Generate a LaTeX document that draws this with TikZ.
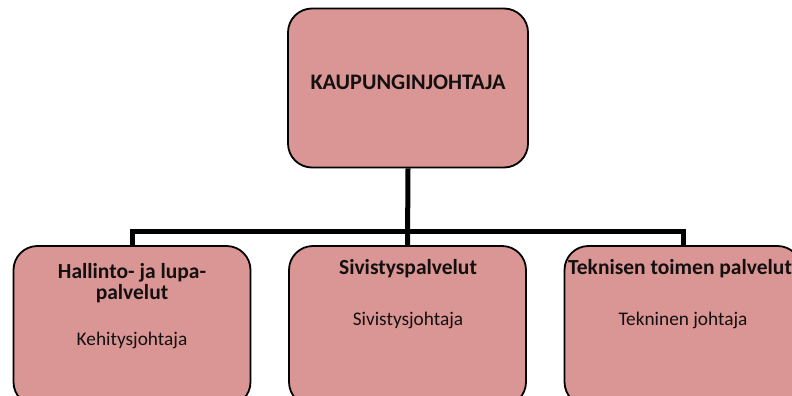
\documentclass[tikz,border=0pt]{standalone}
\usepackage{fontspec}
\setmainfont{Carlito}
\definecolor{boxfill}{RGB}{217,150,148}
\definecolor{txt}{RGB}{20,16,16}
\begin{document}
\begin{tikzpicture}[x=1pt,y=-1pt,
  orgbox/.style={draw=black, line width=1.8pt, fill=boxfill, rounded corners=24pt,
    minimum width=#1, inner sep=0pt},
  orgbox/.default=237pt,
  head/.style={font=\bfseries\fontsize{21.5}{21.5}\selectfont, text=txt, align=center, inner sep=0pt},
  sub/.style={font=\fontsize{19.3}{21}\selectfont, text=txt, inner sep=0pt},
  link/.style={line width=5pt, draw=black}]
\useasboundingbox (0,0) rectangle (792,396);
\clip (0,0) rectangle (792,396);
\node[orgbox=240pt, minimum height=159pt] (top) at (408,88) {};
\node[head, font=\bfseries\fontsize{22.2}{24}\selectfont] (toplbl) at (408,82) {KAUPUNGINJOHTAJA};
\node[orgbox, minimum height=160pt] (left) at (132,326) {};
\node[orgbox, minimum height=160pt] (mid) at (407.5,326) {};
\node[orgbox, minimum height=160pt] (right) at (683,326) {};
\node[head] (lefth) at (132,283) {Hallinto- ja lupa-\\palvelut};
\node[sub] (lefts) at (132,340) {Kehitysjohtaja};
\node[head] (midh) at (408,269) {Sivistyspalvelut};
\node[sub] (mids) at (408,320) {Sivistysjohtaja};
\node[head] (righth) at (680,269) {Teknisen toimen palvelut};
\node[sub] (rights) at (683,320) {Tekninen johtaja};
\coordinate (bar) at (408,231);
\draw[link] (top.south) -- (mid.north);
\draw[link] (left.north) |- (bar) -| (right.north);
\end{tikzpicture}
\end{document}
